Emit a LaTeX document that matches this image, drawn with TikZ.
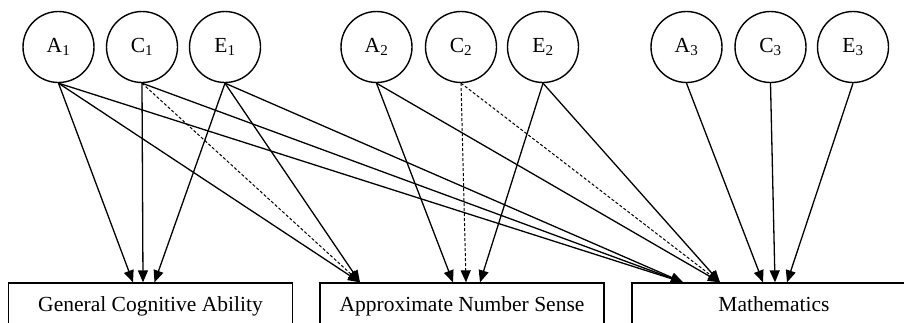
\documentclass[tikz,border=0pt]{standalone}
\usepackage{fontspec}
\setmainfont{Liberation Serif}
\usetikzlibrary{arrows.meta, positioning}

\begin{document}
\begin{tikzpicture}[
    x=1pt, y=-1pt,
    factor/.style={circle, draw, line width=1.4pt, minimum size=71pt, inner sep=0pt, font=\fontsize{21.5}{24}\selectfont},
    measure/.style={rectangle, draw, line width=1.3pt, minimum width=284pt, minimum height=46pt, inner sep=0pt, font=\fontsize{21.5}{24}\selectfont},
    arrow/.style={line width=1.3pt, -{Triangle[length=12pt,width=10pt]}},
    shared/.style={arrow, dash pattern=on 3pt off 2pt, line width=1pt}
]
\useasboundingbox (0,0) rectangle (904,322);
\clip (0,0) rectangle (904,322);

% ACE factors
\node (a1) [factor] at (58.5,47) {A\textsubscript{1}};
\node (c1) [factor] at (142,47) {C\textsubscript{1}};
\node (e1) [factor] at (225,47) {E\textsubscript{1}};
\node (a2) [factor] at (376.5,47) {A\textsubscript{2}};
\node (c2) [factor] at (461,47) {C\textsubscript{2}};
\node (e2) [factor] at (543,47) {E\textsubscript{2}};
\node (a3) [factor] at (686.5,47) {A\textsubscript{3}};
\node (c3) [factor] at (770.5,47) {C\textsubscript{3}};
\node (e3) [factor] at (853,47) {E\textsubscript{3}};

% Measures
\node (gca) [measure, text depth=0pt] at (150.5,306) {\raisebox{3pt}{General Cognitive Ability}};
\node (ans) [measure] at (462,306) {\raisebox{3pt}{Approximate Number Sense}};
\node (math) [measure] at (774,306) {\raisebox{3pt}{Mathematics}};

% Paths to general cognitive ability
\foreach \src/\dx in {a1/-17.5, c1/-7.5, e1/4} {
    \draw [arrow] (\src.south) -- ([xshift=\dx pt]gca.north);
}

% Paths to approximate number sense
\draw [arrow] (a1.south) -- ([xshift=-102pt]ans.north);
\draw [shared] (c1.south) -- ([xshift=-102pt]ans.north);
\draw [arrow] (e1.south) -- ([xshift=-102pt]ans.north);
\draw [arrow] (a2.south) -- ([xshift=-9pt]ans.north);
\draw [shared] (c2.south) -- ([xshift=4pt]ans.north);
\draw [arrow] (e2.south) -- ([xshift=18pt]ans.north);

% Paths to mathematics
\foreach \src in {a1, c1, e1} {
    \draw [arrow] (\src.south) -- ([xshift=-91pt]math.north);
}
\draw [arrow] (a2.south) -- ([xshift=-54pt]math.north);
\draw [shared] (c2.south) -- ([xshift=-54pt]math.north);
\draw [arrow] (e2.south) -- ([xshift=-54pt]math.north);
\foreach \src/\dx in {a3/-11, c3/1, e3/13} {
    \draw [arrow] (\src.south) -- ([xshift=\dx pt]math.north);
}

\end{tikzpicture}
\end{document}
